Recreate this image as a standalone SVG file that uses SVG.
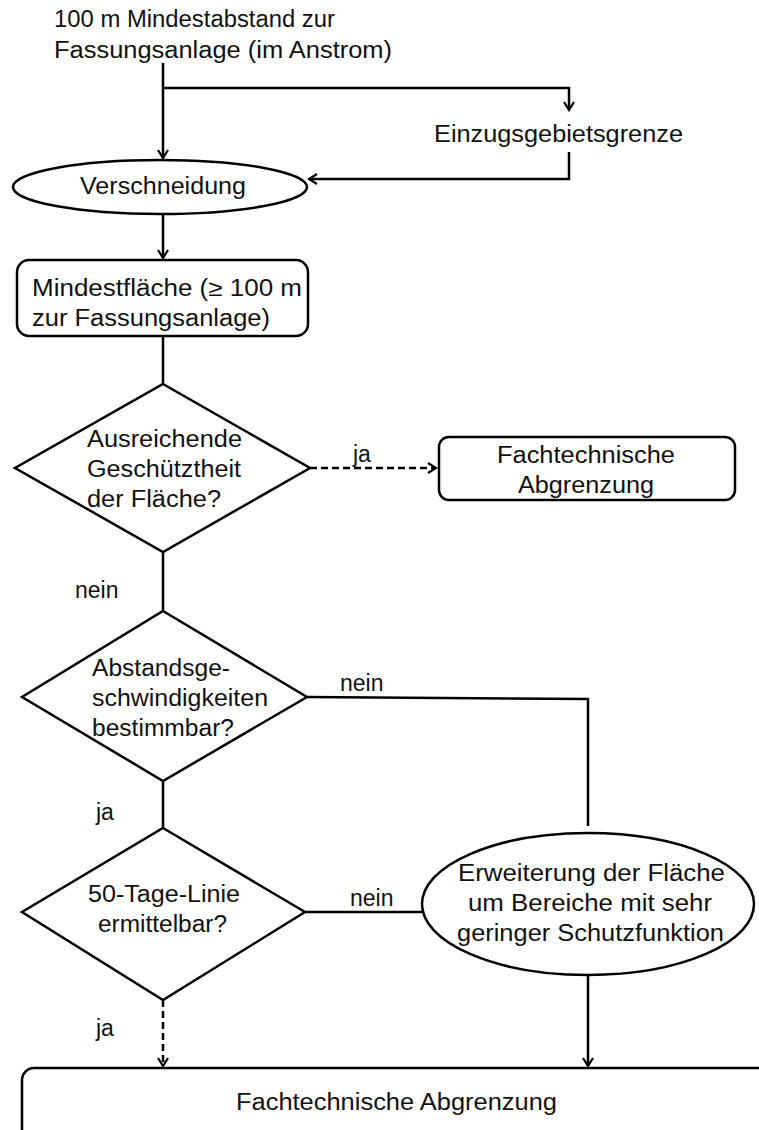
<svg xmlns="http://www.w3.org/2000/svg" width="759" height="1130" viewBox="0 0 759 1130">
<style>
text{font-family:"Liberation Sans",Arial,sans-serif;font-size:23px;fill:#111;}
.n{fill:#fff;stroke:#000;stroke-width:2.5;}
.c{fill:none;stroke:#000;stroke-width:2.5;}
.d{stroke-dasharray:7 4;}
.m{text-anchor:middle;}
</style>
<defs>
<marker id="a" markerWidth="12" markerHeight="12" refX="10" refY="6" orient="auto" markerUnits="userSpaceOnUse">
<path d="M2,1 L10,6 L2,11" fill="none" stroke="#000" stroke-width="2.2"/>
</marker>
</defs>
<g id="connectors">
<path class="c" d="M163,63 V158" marker-end="url(#a)"/>
<path class="c" d="M163,88 H569 V110" marker-end="url(#a)"/>
<path class="c" d="M569,152 V179 H309" marker-end="url(#a)"/>
<path class="c" d="M163,214 V258" marker-end="url(#a)"/>
<path class="c" d="M163,336 V384"/>
<path class="c d" d="M310,468 H436" marker-end="url(#a)"/>
<path class="c" d="M163,552 V611"/>
<path class="c" d="M307,697 L588,699 V826"/>
<path class="c" d="M163,781 V828"/>
<path class="c" d="M305,912 H422"/>
<path class="c d" d="M163,1000 V1066" marker-end="url(#a)"/>
<path class="c" d="M588,975 V1066" marker-end="url(#a)"/>
<text x="353" y="462">ja</text>
<text x="75" y="598">nein</text>
<text x="340" y="691">nein</text>
<text x="96" y="820">ja</text>
<text x="350" y="906">nein</text>
<text x="96" y="1036">ja</text>
</g>
<g id="start">
<text x="54" y="27" textLength="281" lengthAdjust="spacingAndGlyphs">100 m Mindestabstand  zur</text>
<text x="54" y="58" textLength="338" lengthAdjust="spacingAndGlyphs">Fassungsanlage  (im Anstrom)</text>
</g>
<g id="einzugsgebiet">
<text x="434" y="142" textLength="249" lengthAdjust="spacingAndGlyphs">Einzugsgebietsgrenze</text>
</g>
<g id="verschneidung">
<ellipse class="n" cx="160" cy="187" rx="147" ry="27"/>
<text x="80" y="194" textLength="166" lengthAdjust="spacingAndGlyphs">Verschneidung</text>
</g>
<g id="mindestflaeche">
<rect class="n" x="17" y="260" width="291" height="76" rx="12"/>
<text x="32" y="296" textLength="270" lengthAdjust="spacingAndGlyphs">Mindestfläche  (≥ 100 m</text>
<text x="32" y="326" textLength="238" lengthAdjust="spacingAndGlyphs">zur Fassungsanlage)</text>
</g>
<g id="geschuetztheit">
<polygon class="n" points="163,384 310,468 163,552 15,468"/>
<text x="87" y="447" textLength="155" lengthAdjust="spacingAndGlyphs">Ausreichende</text>
<text x="87" y="477" textLength="154" lengthAdjust="spacingAndGlyphs">Geschütztheit</text>
<text x="87" y="507" textLength="134" lengthAdjust="spacingAndGlyphs">der Fläche?</text>
</g>
<g id="fachtechnisch1">
<rect class="n" x="439" y="437" width="296" height="63" rx="10"/>
<text x="497" y="463" textLength="178" lengthAdjust="spacingAndGlyphs">Fachtechnische</text>
<text x="518" y="493" textLength="136" lengthAdjust="spacingAndGlyphs">Abgrenzung</text>
</g>
<g id="abstand">
<polygon class="n" points="163,611 307,697 163,781 22,697"/>
<text x="92" y="676" textLength="138" lengthAdjust="spacingAndGlyphs">Abstandsge-</text>
<text x="92" y="706" textLength="176" lengthAdjust="spacingAndGlyphs">schwindigkeiten</text>
<text x="92" y="736" textLength="142" lengthAdjust="spacingAndGlyphs">bestimmbar?</text>
</g>
<g id="tagelinie">
<polygon class="n" points="163,828 305,912 163,1000 22,912"/>
<text x="88" y="902" textLength="152" lengthAdjust="spacingAndGlyphs">50-Tage-Linie</text>
<text x="98" y="932" textLength="129" lengthAdjust="spacingAndGlyphs">ermittelbar?</text>
</g>
<g id="erweiterung">
<ellipse class="n" cx="588" cy="904" rx="166" ry="71"/>
<text x="458" y="881" textLength="267" lengthAdjust="spacingAndGlyphs">Erweiterung  der Fläche</text>
<text x="468" y="911" textLength="244" lengthAdjust="spacingAndGlyphs">um Bereiche mit sehr</text>
<text x="457" y="941" textLength="267" lengthAdjust="spacingAndGlyphs">geringer  Schutzfunktion</text>
</g>
<g id="fachtechnisch2">
<rect class="n" x="22" y="1068" width="800" height="90" rx="12"/>
<text x="236" y="1110" textLength="321" lengthAdjust="spacingAndGlyphs">Fachtechnische  Abgrenzung</text>
</g>
</svg>
